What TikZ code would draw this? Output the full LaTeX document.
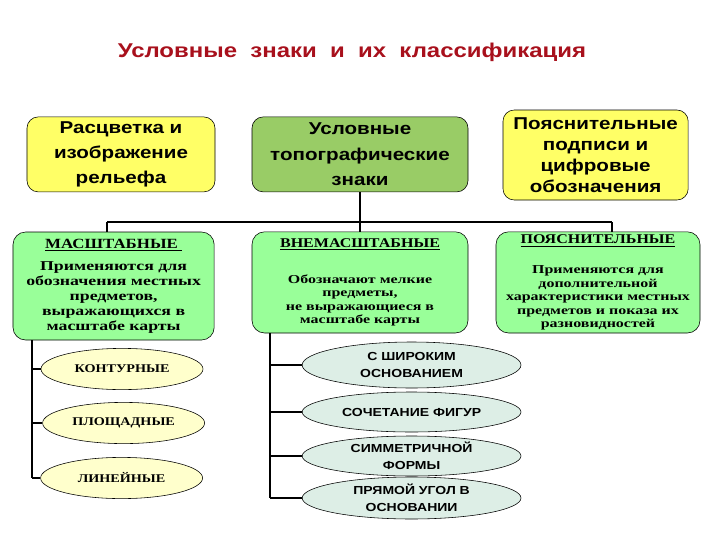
\documentclass[tikz,border=0pt]{standalone}
\usepackage{fontspec}
\usetikzlibrary{shapes.geometric}
\setmainfont{Liberation Serif}
\setsansfont{Liberation Sans}
\newfontfamily\widesans[FakeStretch=1.2]{Liberation Sans}
\newfontfamily\wideserif[FakeStretch=1.2]{Liberation Serif}
\newfontfamily\bodyserif[FakeStretch=1.32]{Liberation Serif}

\definecolor{titlered}{HTML}{A8101C}
\definecolor{topyellow}{HTML}{FFFF66}
\definecolor{topgreen}{HTML}{99CC66}
\definecolor{kindgreen}{HTML}{99FF99}
\definecolor{ovlyellow}{HTML}{FFFFCC}
\definecolor{ovlgray}{HTML}{DDEEE6}

\tikzset{
  topbox/.style={draw, rounded corners=8pt, align=center, inner sep=0pt,
    font=\widesans\bfseries\fontsize{12.2}{18}\selectfont},
  kindbox/.style={draw, fill=kindgreen, rounded corners=9pt, align=center, inner sep=0pt,
    minimum width=5.3cm, minimum height=2.53cm,
    font=\bodyserif\bfseries\fontsize{8.6}{9.5}\selectfont},
  ovlserif/.style={draw, ellipse, fill=ovlyellow, inner sep=0pt, align=center,
    minimum width=4.05cm, minimum height=1.03cm,
    font=\wideserif\bfseries\fontsize{8.4}{11}\selectfont},
  ovlsans/.style={draw, ellipse, fill=ovlgray, inner sep=0pt, align=center,
    minimum width=5.47cm, minimum height=1.05cm,
    font=\widesans\bfseries\fontsize{8.3}{12.2}\selectfont},
  conn/.style={line width=1.9pt}
}
\newcommand{\kindhead}[2][10]{{\wideserif\fontsize{#1}{12}\selectfont\underline{#2}}}

\begin{document}
\begin{tikzpicture}
  \useasboundingbox (0,0) rectangle (18,-13.5);

  \node[text=titlered, font=\widesans\bfseries\fontsize{14.2}{16}\selectfont] (title) at (8.8,-1.32)
    {Условные\ \ знаки\ \ и\ \ их\ \ классификация};

  % upper row
  \node[topbox, fill=topyellow, minimum width=4.7cm, minimum height=1.875cm] (t1) at (3.025,-3.86)
    {Расцветка и\\изображение\\рельефа};
  \node[topbox, fill=topgreen, minimum width=5.4cm, minimum height=1.875cm] (t2) at (9.0,-3.86)
    {Условные\\топографические\\знаки};
  \node[topbox, fill=topyellow, minimum width=4.63cm, minimum height=2.25cm,
    font=\widesans\bfseries\fontsize{12.2}{15}\selectfont] (t3) at (14.89,-3.875)
    {Пояснительные\\подписи и\\цифровые\\обозначения};

  % kinds of signs
  \node[kindbox, minimum width=5.03cm, minimum height=2.7cm,
    font=\bodyserif\bfseries\fontsize{9.6}{10.7}\selectfont] (k1) at (2.84,-7.15)
    {\kindhead{МАСШТАБНЫЕ\ }\\[5pt]Применяются для\\обозначения местных\\предметов,\\выражающихся в\\масштабе карты};
  \node[kindbox, minimum width=5.4cm] (k2) at (9.0,-7.06)
    {\kindhead[9.5]{ВНЕМАСШТАБНЫЕ}\\[16pt]Обозначают мелкие\\предметы,\\не выражающиеся в\\масштабе карты};
  \node[kindbox, minimum width=5.1cm] (k3) at (14.95,-7.06)
    {\kindhead[9.5]{ПОЯСНИТЕЛЬНЫЕ}\\[12pt]Применяются для\\дополнительной\\характеристики местных\\предметов и показа их\\разновидностей};

  % ovals
  \node[ovlserif] (e1) at (3.05,-9.225) {КОНТУРНЫЕ};
  \node[ovlserif] (e2) at (3.09,-10.575) {ПЛОЩАДНЫЕ};
  \node[ovlserif] (e3) at (3.04,-11.95) {ЛИНЕЙНЫЕ};
  \node[ovlsans, minimum height=1.15cm] (e4) at (10.29,-9.125) {С ШИРОКИМ\\ОСНОВАНИЕМ};
  \node[ovlsans, minimum height=1.0cm] (e5) at (10.29,-10.3) {СОЧЕТАНИЕ ФИГУР};
  \node[ovlsans, minimum height=1.0cm] (e6) at (10.29,-11.4) {СИММЕТРИЧНОЙ\\ФОРМЫ};
  \node[ovlsans] (e7) at (10.29,-12.45) {ПРЯМОЙ УГОЛ В\\ОСНОВАНИИ};

  \coordinate (h1) at (2.675,-5.55);
  \coordinate (h3) at (15.3,-5.55);
  \coordinate (s1) at (0.8,-8.5);
  \coordinate (s2) at (6.75,-8.325);

	\draw[conn] (t2) -- (k2);
	\draw[conn] (h1) -- (h3);
	\draw[conn] (h1) -- (h1 |- k1.north);
	\draw[conn] (h3) -- (h3 |- k3.north);
	\draw[conn] (s1) -- (s1 |- e3);
	\draw[conn] (s2) -- (s2 |- e7);
	\foreach \e in {e1,e2,e3} {\draw[conn] (s1 |- \e) -- (\e.west);}
	\foreach \e in {e4,e5,e6,e7} {\draw[conn] (s2 |- \e) -- (\e.west);}

\end{tikzpicture}
\end{document}
